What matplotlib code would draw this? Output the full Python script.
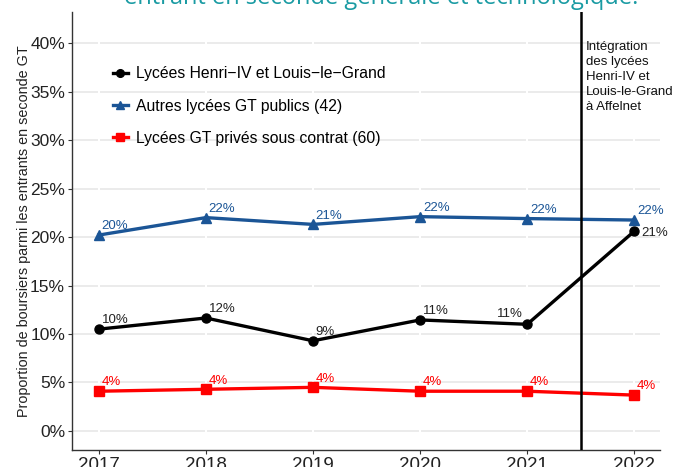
import matplotlib
matplotlib.use("Agg")
import matplotlib.pyplot as plt

years = [2017, 2018, 2019, 2020, 2021, 2022]
henri_llg = [10.5, 11.65, 9.3, 11.45, 11.0, 20.6]
autres_publics = [20.2, 22.0, 21.3, 22.1, 21.9, 21.75]
prives = [4.1, 4.3, 4.5, 4.1, 4.1, 3.7]
henri_lbl = ["10%", "12%", "9%", "11%", "11%", "21%"]
autres_lbl = ["20%", "22%", "21%", "22%", "22%", "22%"]
prives_lbl = ["4%", "4%", "4%", "4%", "4%", "4%"]
yticks = [0, 5, 10, 15, 20, 25, 30, 35, 40]
ytick_labels = ["0%", "5%", "10%", "15%", "20%", "25%", "30%", "35%", "40%"]

plt.rcParams['font.family'] = ['Liberation Sans', 'DejaVu Sans']

fig = plt.figure(figsize=(6.75, 4.67), dpi=100)
ax = fig.add_axes([72/675, 1-450/467, (660-72)/675, (450-12)/467])

ax.set_xlim(2016.75, 2022.24)
ax.set_ylim(-1.96, 43.2)

for y in yticks:
    ax.axhline(y, color="#e6e6e6", lw=1.1, zorder=0)
for x in years:
    ax.axvline(x, color="white", lw=1.5, zorder=0.5)

blue = "#1b5596"
red = "#ff0000"
lw = 2.4
l1, = ax.plot(years, henri_llg, color="black", lw=lw, marker="o", ms=6.5, zorder=3,
              label="Lycées Henri\u2212IV et Louis\u2212le\u2212Grand")
l2, = ax.plot(years, autres_publics, color=blue, lw=lw, marker="^", ms=7, zorder=3,
              label="Autres lycées GT publics (42)")
l3, = ax.plot(years, prives, color=red, lw=lw, marker="s", ms=7, zorder=3,
              label="Lycées GT privés sous contrat (60)")

ax.axvline(2021.5, color="black", lw=1.8, zorder=4)

fs_lbl = 9.5
for i, (x, y, t) in enumerate(zip(years, henri_llg, henri_lbl)):
    if i == 4:
        ax.annotate(t, (x, y), xytext=(-3, 3), textcoords="offset points",
                    ha="right", va="bottom", fontsize=fs_lbl, color="#222222")
    elif i == 5:
        ax.annotate(t, (x, y), xytext=(5, -1), textcoords="offset points",
                    ha="left", va="center", fontsize=fs_lbl, color="#222222")
    else:
        ax.annotate(t, (x, y), xytext=(2, 2), textcoords="offset points",
                    ha="left", va="bottom", fontsize=fs_lbl, color="#222222")
for i, (x, y, t) in enumerate(zip(years, autres_publics, autres_lbl)):
    ax.annotate(t, (x, y), xytext=(2, 2), textcoords="offset points",
                ha="left", va="bottom", fontsize=fs_lbl, color=blue)
for i, (x, y, t) in enumerate(zip(years, prives, prives_lbl)):
    ax.annotate(t, (x, y), xytext=(2, 2), textcoords="offset points",
                ha="left", va="bottom", fontsize=fs_lbl, color=red)

ax.text(2021.55, 40.2, "Intégration\ndes lycées\nHenri-IV et\nLouis-le-Grand\nà Affelnet",
        ha="left", va="top", fontsize=9.5, linespacing=1.33, color="#111111")

leg = ax.legend(handles=[l1, l2, l3], loc="upper left", bbox_to_anchor=(0.045, 0.908),
                frameon=False, fontsize=11.3, handlelength=1.0, handletextpad=0.5,
                labelspacing=1.1, markerscale=0.85)

ax.set_yticks(yticks)
ax.set_yticklabels(ytick_labels, fontsize=12.5, color="#222222")
ax.set_xticks(years)
ax.set_xticklabels([str(y) for y in years], fontsize=13.5, color="#222222")
ax.tick_params(axis="both", length=3, color="#333333", pad=2)
ax.set_ylabel("Proportion de boursiers parmi les entrants en seconde GT",
              fontsize=10.4, color="#222222")
ax.yaxis.set_label_coords(-0.07, 0.5)

for s in ["top", "right"]:
    ax.spines[s].set_visible(False)
for s in ["left", "bottom"]:
    ax.spines[s].set_color("#333333")
    ax.spines[s].set_linewidth(1.0)

fig.text(0.565, 1 - 4/467, "entrant en seconde générale et technologique.",
         ha="center", va="baseline", fontsize=17, color="#1a9ba3",
         family=["Open Sans", "DejaVu Sans"])

fig.savefig("out.png", dpi=100)
